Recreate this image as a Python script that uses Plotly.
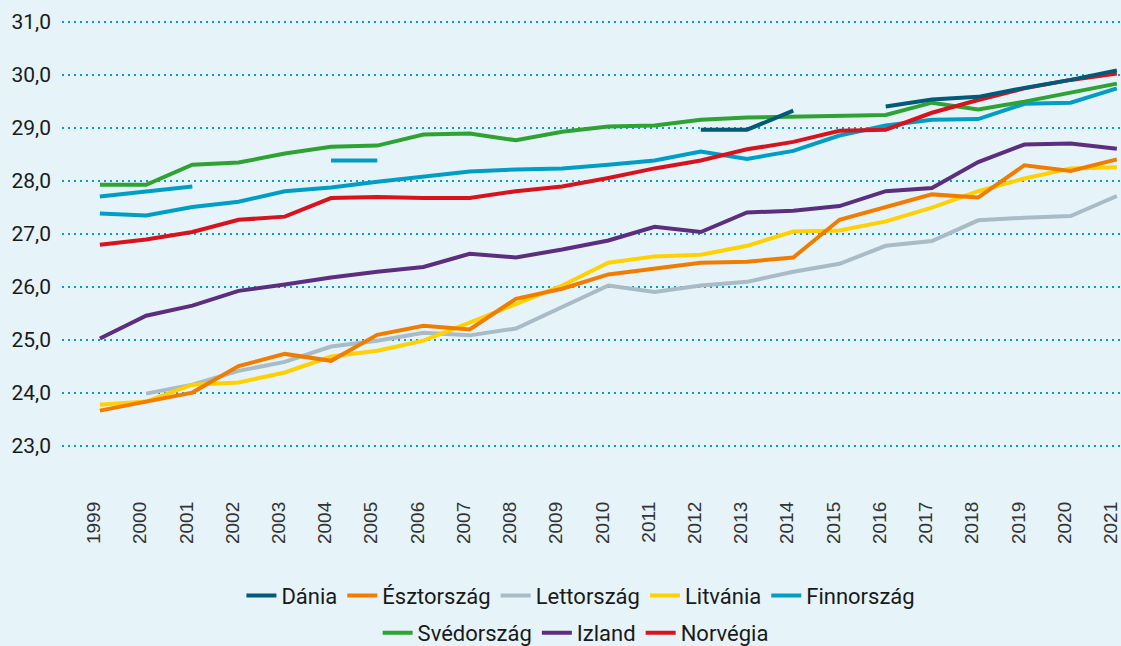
import plotly.graph_objects as go

years = list(range(1999, 2022))

dania = [None]*13 + [28.96, 28.96, 29.32, None, 29.40, 29.53, 29.58, 29.75, 29.90, 30.08]
esztorszag = [23.66, 23.83, 24.00, 24.50, 24.73, 24.60, 25.09, 25.26, 25.19, 25.77, 25.96, 26.23,
              26.34, 26.45, 26.47, 26.55, 27.26, 27.50, 27.74, 27.68, 28.29, 28.18, 28.40]
lettorszag = [None, 23.98, 24.15, 24.41, 24.58, 24.87, 24.98, 25.13, 25.08, 25.21, 25.62, 26.02,
              25.90, 26.02, 26.09, 26.28, 26.43, 26.77, 26.86, 27.25, 27.30, 27.33, 27.71]
litvania = [23.77, 23.83, 24.15, 24.19, 24.38, 24.68, 24.79, 24.98, 25.32, 25.66, 26.02, 26.45,
            26.57, 26.60, 26.77, 27.04, 27.06, 27.23, 27.49, 27.80, 28.04, 28.23, 28.25]
finnorszag = [27.38, 27.34, 27.50, 27.60, 27.80, 27.87, 27.98, 28.08, 28.17, 28.21, 28.23, 28.30,
              28.38, 28.55, 28.41, 28.56, 28.85, 29.04, 29.15, 29.16, 29.45, 29.47, 29.74]
finnorszag_extra = [27.70, 27.80, 27.89, None, None, 28.38, 28.38] + [None]*16
svedorszag = [27.92, 27.92, 28.30, 28.34, 28.51, 28.64, 28.66, 28.87, 28.89, 28.76, 28.92, 29.02,
              29.04, 29.15, 29.19, 29.21, 29.23, 29.24, 29.47, 29.34, 29.49, 29.66, 29.83]
izland = [25.02, 25.45, 25.64, 25.92, 26.04, 26.17, 26.28, 26.37, 26.62, 26.55, 26.70, 26.87,
          27.13, 27.03, 27.40, 27.43, 27.52, 27.80, 27.86, 28.35, 28.68, 28.70, 28.60]
norvegia = [26.79, 26.89, 27.03, 27.26, 27.32, 27.67, 27.69, 27.67, 27.67, 27.80, 27.89, 28.05,
            28.23, 28.38, 28.59, 28.73, 28.94, 28.96, 29.28, 29.52, 29.74, 29.90, 30.02]

y_ticks = [23, 24, 25, 26, 27, 28, 29, 30, 31]

BG = "#E6F4F9"
font_fam = "Roboto, 'Noto Sans', sans-serif"

fig = go.Figure()

def add(name, vals, color, legend, showlegend=True, group=None):
    fig.add_trace(go.Scatter(
        x=years, y=vals, name=name, mode="lines",
        line=dict(color=color, width=4),
        connectgaps=False, legend=legend, showlegend=showlegend,
        legendgroup=group or name,
    ))

add("Finnország", finnorszag_extra, "#009EC4", "legend", showlegend=False, group="Finnország")
add("Lettország", lettorszag, "#A9BBC6", "legend")
add("Litvánia", litvania, "#FFD100", "legend")
add("Észtország", esztorszag, "#F07D00", "legend")
add("Izland", izland, "#5C2F7E", "legend2")
add("Finnország", finnorszag, "#009EC4", "legend", group="Finnország")
add("Svédország", svedorszag, "#2EA333", "legend2")
add("Norvégia", norvegia, "#D7141E", "legend2")
add("Dánia", dania, "#005A78", "legend")

order1 = ["Dánia", "Észtország", "Lettország", "Litvánia", "Finnország"]
order2 = ["Svédország", "Izland", "Norvégia"]
for tr in fig.data:
    if tr.name in order1:
        tr.legendrank = order1.index(tr.name) + 1
    elif tr.name in order2:
        tr.legendrank = order2.index(tr.name) + 1

fig.update_layout(
    width=1121, height=646,
    paper_bgcolor=BG, plot_bgcolor=BG,
    margin=dict(l=62, r=0, t=11, b=158, autoexpand=False),
    separators=", ",
    font=dict(family=font_fam, color="#1a1a1a"),
    xaxis=dict(
        range=[1998.18, 2021.09],
        tickmode="array", tickvals=years, ticktext=[str(y) for y in years],
        tickangle=-90, showgrid=False, zeroline=False, showline=False,
        ticks="", ticklabelstandoff=9, ticklabelshift=-6, ticklabeloverflow="allow",
        tickfont=dict(family="'Liberation Sans', Arial, sans-serif", size=19, color="#333333"),
    ),
    yaxis=dict(
        range=[22.2, 31.2],
        tickmode="array", tickvals=y_ticks, ticktext=[f"{v},0" for v in y_ticks],
        showgrid=True, gridcolor="#00A0C8", gridwidth=2, griddash="2px,4px",
        zeroline=False, showline=False, ticks="", ticklabelstandoff=10,
        tickfont=dict(family=font_fam, size=21, color="#1a1a1a"),
    ),
    legend=dict(
        orientation="h", x=0.49, xanchor="center", y=-0.226, yanchor="middle",
        bgcolor="rgba(0,0,0,0)", font=dict(family=font_fam, size=22, color="#1a1a1a"),
        traceorder="normal", itemwidth=30,
    ),
    legend2=dict(
        orientation="h", x=0.485, xanchor="center", y=-0.304, yanchor="middle",
        bgcolor="rgba(0,0,0,0)", font=dict(family=font_fam, size=22, color="#1a1a1a"),
        traceorder="normal", itemwidth=30,
    ),
    showlegend=True,
)

fig.write_html(
    "out.html",
    config={"displayModeBar": False},
    post_script="document.body.style.margin='0';document.body.style.padding='0';"
                "document.body.style.background='" + BG + "';",
)
